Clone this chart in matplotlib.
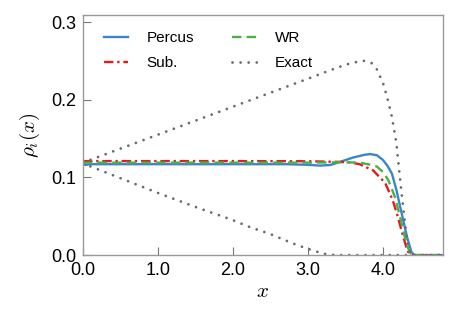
import numpy as np
import matplotlib
matplotlib.use("Agg")
import matplotlib.pyplot as plt

plt.rcParams['font.family'] = ['Liberation Sans', 'DejaVu Sans']
plt.rcParams['mathtext.fontset'] = 'cm'

# density profiles
x_percus = [0.0, 0.03, 0.1, 0.5, 1.0, 2.0, 2.7, 3.0, 3.16, 3.3, 3.43, 3.6, 3.75, 3.83, 3.92, 4.0,
            4.06, 4.12, 4.18, 4.25, 4.32, 4.38, 4.42, 4.8]
y_percus = [0.120, 0.116, 0.117, 0.117, 0.117, 0.117, 0.117, 0.1162, 0.1152, 0.116, 0.120, 0.1255, 0.129, 0.130,
            0.1285, 0.1225, 0.115, 0.105, 0.084, 0.054, 0.024, 0.004, 0.0, 0.0]

x_sub = [0.0, 1.0, 2.0, 3.0, 3.4, 3.55, 3.69, 3.87, 4.03, 4.13, 4.2, 4.27, 4.33, 4.37, 4.8]
y_sub = [0.121, 0.121, 0.121, 0.1208, 0.120, 0.1195, 0.117, 0.109, 0.093, 0.071, 0.049, 0.024, 0.005, 0.0, 0.0]

x_wr = [0.0, 1.0, 2.0, 3.0, 3.5, 3.69, 3.8, 3.92, 4.0, 4.07, 4.16, 4.23, 4.29, 4.35, 4.39, 4.8]
y_wr = [0.119, 0.119, 0.119, 0.119, 0.1195, 0.119, 0.117, 0.114, 0.107, 0.097, 0.075, 0.049, 0.024, 0.005, 0.0, 0.0]

x_exact_hi = [0.0, 0.5, 1.0, 1.5, 2.0, 2.5, 3.0, 3.3, 3.5, 3.62, 3.75, 3.85, 3.92, 4.0, 4.06, 4.12, 4.18,
              4.23, 4.27, 4.31, 4.34, 4.37, 4.8]
y_exact_hi = [0.119, 0.137, 0.155, 0.173, 0.191, 0.209, 0.227, 0.238, 0.245, 0.248, 0.250, 0.247, 0.239,
              0.222, 0.202, 0.178, 0.144, 0.097, 0.062, 0.028, 0.010, 0.0, 0.0]

x_exact_lo = [0.0, 0.5, 1.0, 1.5, 2.0, 2.2, 2.5, 2.8, 3.0, 3.1, 3.2, 3.3, 3.4, 4.8]
y_exact_lo = [0.118, 0.099, 0.080, 0.062, 0.045, 0.037, 0.027, 0.015, 0.008, 0.005, 0.002, 0.0005, 0.0, 0.0]

xticks = [0, 1, 2, 3, 4]
xticklabels = ['0.0', '1.0', '2.0', '3.0', '4.0']
yticks = [0.0, 0.1, 0.2, 0.3]
yticklabels = ['0.0', '0.1', '0.2', '0.3']

fig = plt.figure(figsize=(4.58, 3.13), dpi=100)
ax = fig.add_axes([0.181, 0.185, 0.786, 0.767])

dots = (0, (0.01, 2.9))
ax.plot(x_percus, y_percus, color='#3a86c8', lw=1.7, label='Percus')
ax.plot(x_sub, y_sub, color='#e51b1b', lw=1.7, ls=(0, (4, 1.6, 1, 1.6)), label='Sub.')
ax.plot(x_wr, y_wr, color='#4daf4a', lw=1.7, ls=(0, (4, 2.2)), label='WR')
ax.plot(x_exact_hi, y_exact_hi, color='#6a6a6a', lw=2.0, ls=dots,
        dash_capstyle='round', label='Exact')
ax.plot(x_exact_lo, y_exact_lo, color='#6a6a6a', lw=2.0, ls=dots, dash_capstyle='round')

ax.set_xlim(0, 4.8)
ax.set_ylim(0, 0.309)
ax.set_xticks(xticks)
ax.set_xticklabels(xticklabels)
ax.set_yticks(yticks)
ax.set_yticklabels(yticklabels)
ax.tick_params(direction='in', length=6, width=0.8, color='#777777', labelsize=13, pad=5)
for s in ax.spines.values():
    s.set_color('#999999')
    s.set_linewidth(1.0)

ax.set_xlabel('$x$', fontsize=15, labelpad=2)
ax.set_ylabel(r'$\rho_i(x)$', fontsize=15, labelpad=6)

ax.legend(ncol=2, frameon=False, loc='upper left', fontsize=11, handlelength=1.6,
          handletextpad=1.2, columnspacing=2.5, labelspacing=0.72,
          bbox_to_anchor=(0.02, 0.99))

fig.savefig('out.png', dpi=100)
